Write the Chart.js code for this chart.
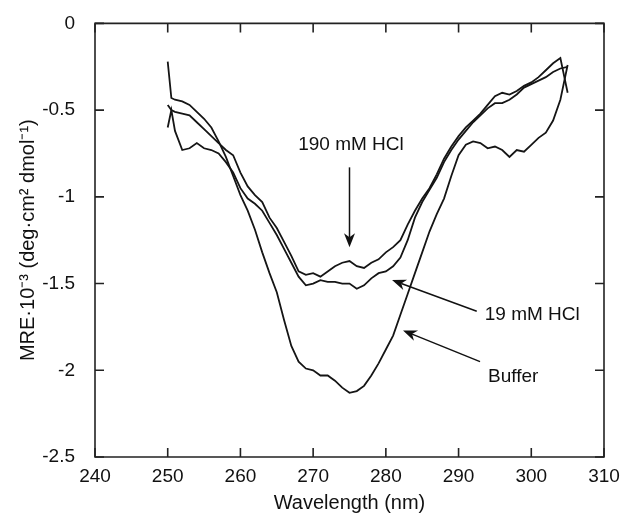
<!DOCTYPE html>
<html><head><meta charset="utf-8">
<script src="https://cdn.jsdelivr.net/npm/chart.js@4.4.1/dist/chart.umd.min.js"></script>
<style>html,body{margin:0;padding:0;background:#fff;}#wrap{width:632px;height:515px;position:relative;}</style>
</head><body><div id="wrap"><canvas id="c"></canvas></div>
<script>
const wavelengths = [250,250.5,251,252,253,254,255,256,257,258,259,260,261,262,263,264,265,266,267,268,269,270,271,272,273,274,275,276,277,278,279,280,281,282,283,284,285,286,287,288,289,290,291,292,293,294,295,296,297,298,299,300,301,302,303,304,305];
const buffer = [-0.22,-0.43,-0.44,-0.45,-0.47,-0.51,-0.55,-0.60,-0.68,-0.77,-0.88,-0.99,-1.08,-1.19,-1.32,-1.44,-1.55,-1.71,-1.86,-1.95,-1.99,-2.00,-2.03,-2.03,-2.06,-2.10,-2.13,-2.12,-2.09,-2.03,-1.96,-1.88,-1.80,-1.68,-1.56,-1.44,-1.32,-1.20,-1.10,-1.01,-0.88,-0.76,-0.70,-0.68,-0.69,-0.72,-0.71,-0.73,-0.77,-0.73,-0.74,-0.70,-0.66,-0.63,-0.56,-0.44,-0.24];
const hcl19 = [-0.60,-0.50,-0.62,-0.73,-0.72,-0.69,-0.72,-0.73,-0.75,-0.80,-0.86,-0.95,-1.01,-1.04,-1.08,-1.15,-1.22,-1.30,-1.38,-1.46,-1.51,-1.50,-1.48,-1.49,-1.49,-1.50,-1.50,-1.53,-1.51,-1.47,-1.44,-1.43,-1.40,-1.35,-1.25,-1.12,-1.03,-0.96,-0.89,-0.80,-0.73,-0.67,-0.62,-0.57,-0.53,-0.49,-0.46,-0.46,-0.44,-0.41,-0.37,-0.35,-0.33,-0.31,-0.28,-0.26,-0.25];
const hcl190 = [-0.47,-0.50,-0.51,-0.52,-0.53,-0.57,-0.61,-0.65,-0.69,-0.73,-0.76,-0.86,-0.94,-0.99,-1.03,-1.12,-1.18,-1.26,-1.34,-1.43,-1.45,-1.44,-1.46,-1.43,-1.40,-1.38,-1.37,-1.40,-1.41,-1.38,-1.36,-1.32,-1.29,-1.25,-1.16,-1.08,-1.01,-0.95,-0.87,-0.78,-0.71,-0.65,-0.60,-0.56,-0.52,-0.47,-0.42,-0.40,-0.41,-0.39,-0.36,-0.34,-0.31,-0.27,-0.23,-0.20,-0.40];
const seriesNames = ['Buffer','19 mM HCl','190 mM HCl'];
const xTickValues = [240,250,260,270,280,290,300,310];
const xTickLabels = ['240','250','260','270','280','290','300','310'];
const yTickValues = [0,-0.5,-1,-1.5,-2,-2.5];
const yTickLabels = ['0','-0.5','-1','-1.5','-2','-2.5'];
const xTitle = 'Wavelength (nm)';
const yTitle = 'MRE\u00B710\u207B\u00B3 (deg\u00B7cm\u00B2 dmol\u207B\u00B9)';
// annotation labels: text anchor and arrow (tail -> head) in data units
const annoText = ['190 mM HCl','19 mM HCl','Buffer'];
const annoTextX = [275.2, 293.6, 294.05];
const annoTextY = [-0.70, -1.68, -2.04];
const annoAlign = ['center','left','left'];
const arrowFromX = [275.0, 292.5, 292.95];
const arrowFromY = [-0.83, -1.66, -1.95];
const arrowToX = [275.0, 280.85, 282.36];
const arrowToY = [-1.29, -1.48, -1.77];

const FONT = '"Liberation Sans", Arial, Helvetica, sans-serif';
const toPts = vals => wavelengths.map((x,i)=>({x:x,y:vals[i]}));

const framePlugin = {
  id:'frame',
  afterDatasetsDraw(chart){
    const {ctx, chartArea:a, scales:{x,y}} = chart;
    ctx.save();
    ctx.strokeStyle = '#222';
    ctx.lineWidth = 1.6;
    ctx.beginPath();
    ctx.rect(a.left, a.top, a.right-a.left, a.bottom-a.top);
    ctx.stroke();
    const tl = 9;
    ctx.beginPath();
    xTickValues.forEach(v=>{
      const px = x.getPixelForValue(v);
      ctx.moveTo(px, a.bottom); ctx.lineTo(px, a.bottom-tl);
      ctx.moveTo(px, a.top); ctx.lineTo(px, a.top+tl);
    });
    yTickValues.forEach(v=>{
      const py = y.getPixelForValue(v);
      ctx.moveTo(a.left, py); ctx.lineTo(a.left+tl, py);
      ctx.moveTo(a.right, py); ctx.lineTo(a.right-tl, py);
    });
    ctx.stroke();
    // annotations
    ctx.fillStyle = '#111';
    ctx.strokeStyle = '#111';
    ctx.font = '19px ' + FONT;
    ctx.textBaseline = 'middle';
    annoText.forEach((t,i)=>{
      ctx.textAlign = annoAlign[i];
      ctx.fillText(t, x.getPixelForValue(annoTextX[i]), y.getPixelForValue(annoTextY[i]));
      const x0 = x.getPixelForValue(arrowFromX[i]), y0 = y.getPixelForValue(arrowFromY[i]);
      const x1 = x.getPixelForValue(arrowToX[i]), y1 = y.getPixelForValue(arrowToY[i]);
      const ang = Math.atan2(y1-y0, x1-x0);
      const L = 14, W = 5.5;
      ctx.lineWidth = 1.5;
      ctx.beginPath();
      ctx.moveTo(x0,y0);
      ctx.lineTo(x1 - Math.cos(ang)*L*0.7, y1 - Math.sin(ang)*L*0.7);
      ctx.stroke();
      ctx.beginPath();
      const bx = x1 - Math.cos(ang)*L, by = y1 - Math.sin(ang)*L;
      const nx = -Math.sin(ang), ny = Math.cos(ang);
      ctx.moveTo(x1,y1);
      ctx.lineTo(bx + nx*W, by + ny*W);
      ctx.lineTo(x1 - Math.cos(ang)*L*0.7, y1 - Math.sin(ang)*L*0.7);
      ctx.lineTo(bx - nx*W, by - ny*W);
      ctx.closePath();
      ctx.fill();
    });
    ctx.restore();
  }
};

const ds = (label, vals) => ({label, data: toPts(vals), borderColor:'#151515', borderWidth:1.8, pointRadius:0, fill:false, tension:0, showLine:true});

new Chart(document.getElementById('c'), {
  type:'scatter',
  data:{ datasets:[ ds(seriesNames[0], buffer), ds(seriesNames[1], hcl19), ds(seriesNames[2], hcl190) ] },
  options:{
    responsive:true, maintainAspectRatio:false, animation:false,
    devicePixelRatio: 1,
    layout:{ padding:{ top:20, right:28, bottom:0, left:0 } },
    plugins:{ legend:{display:false}, tooltip:{enabled:false} },
    scales:{
      x:{ type:'linear', min:240, max:310,
        afterBuildTicks: s => { s.ticks = xTickValues.map(v=>({value:v})); },
        afterFit: s => { s.height = 58; },
        grid:{ display:false }, border:{ display:false },
        ticks:{ color:'#111', font:{ family:FONT, size:19 }, padding:0, maxRotation:0,
          callback:(v,i)=> xTickLabels[xTickValues.indexOf(v)] },
        title:{ display:true, text:xTitle, color:'#111', font:{family:FONT, size:20}, padding:{top:0,bottom:0} }
      },
      y:{ type:'linear', min:-2.5, max:0,
        afterBuildTicks: s => { s.ticks = yTickValues.map(v=>({value:v})); },
        afterFit: s => { s.width = 95; },
        grid:{ display:false }, border:{ display:false },
        ticks:{ color:'#111', font:{ family:FONT, size:19 }, padding:12,
          callback:(v)=> yTickLabels[yTickValues.indexOf(v)] },
        title:{ display:true, text:yTitle, color:'#111', font:{family:FONT, size:20}, padding:{top:16,bottom:0} }
      }
    }
  },
  plugins:[framePlugin]
});
</script></body></html>
